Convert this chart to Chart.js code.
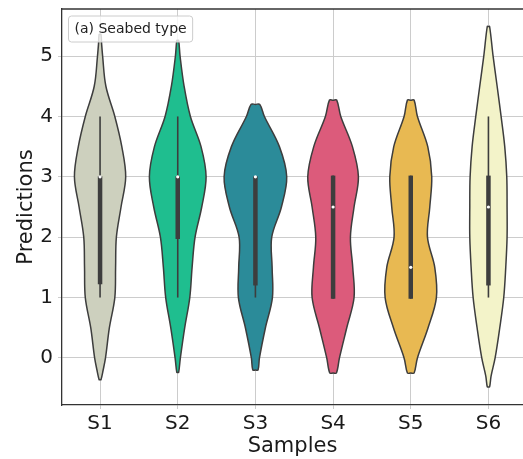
<!DOCTYPE html>
<html>
<head>
<meta charset="utf-8">
<script src="https://cdn.jsdelivr.net/npm/chart.js@4.4.1/dist/chart.umd.min.js"></script>
<style>
  html, body { margin: 0; padding: 0; background: #ffffff; }
  canvas { display: block; }
</style>
</head>
<body>
<canvas id="c" width="523" height="459"></canvas>
<script>
// ---- data ----
const categories = ['S1', 'S2', 'S3', 'S4', 'S5', 'S6'];
const yTicks = [0, 1, 2, 3, 4, 5];
const panelLabel = '(a) Seabed type';
const xTitle = 'Samples';
const yTitle = 'Predictions';

// violin outlines: prediction levels and kernel-density half widths (x-axis units)
const levelsS1 = [-0.36, -0.2, 0, 0.5, 1, 1.5, 2, 2.5, 3, 3.5, 4, 4.5, 5, 5.2, 5.36];
const widthS1  = [0.012, 0.04, 0.07, 0.12, 0.19, 0.20, 0.21, 0.27, 0.33, 0.28, 0.19, 0.075, 0.033, 0.02, 0.012];
const levelsS2 = [-0.24, 0, 0.5, 1, 1.5, 2, 2.5, 3, 3.5, 4, 4.5, 5, 5.26];
const widthS2  = [0.012, 0.034, 0.09, 0.155, 0.185, 0.223, 0.309, 0.365, 0.30, 0.163, 0.082, 0.03, 0.012];
const levelsS3 = [-0.2, 0, 0.5, 1, 1.5, 2, 2.5, 3, 3.5, 4, 4.2];
const widthS3  = [0.034, 0.052, 0.129, 0.219, 0.215, 0.21, 0.335, 0.403, 0.309, 0.116, 0.056];
const levelsS4 = [-0.25, 0, 0.5, 1, 1.5, 2, 2.5, 3, 3.5, 4, 4.27];
const widthS4  = [0.043, 0.082, 0.176, 0.27, 0.253, 0.223, 0.27, 0.326, 0.249, 0.099, 0.047];
const levelsS5 = [-0.25, 0, 0.5, 1, 1.5, 2, 2.5, 3, 3.5, 4, 4.27];
const widthS5  = [0.043, 0.086, 0.223, 0.33, 0.309, 0.215, 0.245, 0.27, 0.219, 0.086, 0.043];
const levelsS6 = [-0.48, -0.3, 0, 0.5, 1, 1.5, 2, 2.5, 3, 3.5, 4, 4.5, 5, 5.49];
const widthS6  = [0.015, 0.034, 0.086, 0.146, 0.197, 0.223, 0.24, 0.24, 0.236, 0.21, 0.163, 0.112, 0.06, 0.015];

// inner box statistics
const quartile1   = [1.22, 1.97, 1.2, 0.98, 0.98, 1.2];
const quartile3   = [3.01, 3.01, 3.01, 3.02, 3.02, 3.02];
const medians     = [3.0, 3.0, 3.0, 2.5, 1.5, 2.5];
const whiskerLow  = [1, 1, 1, 0.98, 0.98, 1];
const whiskerHigh = [4, 4, 3.01, 3.02, 3.02, 4];

const fillColors = ['#cdd0be', '#1fbe8f', '#2b8b99', '#dc5b7b', '#e8b952', '#f3f3c9'];

const allLevels = [levelsS1, levelsS2, levelsS3, levelsS4, levelsS5, levelsS6];
const allWidths = [widthS1, widthS2, widthS3, widthS4, widthS5, widthS6];

// ---- build datasets ----
const ink = '#3d3d3d';
const datasets = [];
categories.forEach((cat, i) => {
  const lv = allLevels[i], hw = allWidths[i];
  const pts = [{x: i, y: lv[0]}];
  for (let k = 0; k < lv.length; k++) pts.push({x: i + hw[k], y: lv[k]});
  pts.push({x: i, y: lv[lv.length - 1]});
  for (let k = lv.length - 1; k >= 0; k--) pts.push({x: i - hw[k], y: lv[k]});
  pts.push({x: i, y: lv[0]});
  datasets.push({
    label: cat + ' violin', data: pts, showLine: true, fill: 'shape',
    backgroundColor: fillColors[i], borderColor: ink, borderWidth: 1.5,
    pointRadius: 0, tension: 0.35, order: 3
  });
  datasets.push({
    label: cat + ' whisker', data: [{x: i, y: whiskerLow[i]}, {x: i, y: whiskerHigh[i]}],
    showLine: true, borderColor: ink, borderWidth: 1.6, pointRadius: 0,
    borderCapStyle: 'butt', order: 2
  });
  datasets.push({
    label: cat + ' box', data: [{x: i, y: quartile1[i]}, {x: i, y: quartile3[i]}],
    showLine: true, borderColor: ink, borderWidth: 4.5, pointRadius: 0,
    borderCapStyle: 'butt', order: 1
  });
});
datasets.push({
  label: 'median', data: medians.map((m, i) => ({x: i, y: m})),
  showLine: false, pointRadius: 1.6, pointBackgroundColor: '#ffffff',
  pointBorderWidth: 0, order: 0
});

const frameAndLabel = {
  id: 'frameAndLabel',
  afterDraw(chart) {
    const {ctx, chartArea} = chart;
    ctx.save();
    // panel label box
    ctx.font = '14px "DejaVu Sans"';
    const tw = ctx.measureText(panelLabel).width;
    const bx = chartArea.left + 6.5, by = 16, bw = tw + 12, bh = 26;
    ctx.beginPath();
    ctx.roundRect(bx, by, bw, bh, 3);
    ctx.fillStyle = 'rgba(255,255,255,0.8)';
    ctx.fill();
    ctx.strokeStyle = '#cccccc';
    ctx.lineWidth = 1;
    ctx.stroke();
    ctx.fillStyle = '#222222';
    ctx.textBaseline = 'middle';
    ctx.textAlign = 'left';
    ctx.fillText(panelLabel, bx + 6, by + bh / 2);
    // top spine
    ctx.beginPath();
    ctx.strokeStyle = '#333333';
    ctx.lineWidth = 1.3;
    ctx.moveTo(chartArea.left, chartArea.top);
    ctx.lineTo(chartArea.right, chartArea.top);
    ctx.stroke();
    ctx.restore();
  }
};

new Chart(document.getElementById('c'), {
  type: 'scatter',
  data: { datasets },
  options: {
    responsive: false,
    animation: false,
    devicePixelRatio: 1,
    layout: { autoPadding: false, padding: { top: 9, left: 0, right: 0, bottom: 0 } },
    plugins: { legend: { display: false }, tooltip: { enabled: false } },
    scales: {
      x: {
        type: 'linear', min: -0.49, max: 5.445,
        afterBuildTicks: (s) => { s.ticks = categories.map((c, i) => ({value: i})); },
        afterFit: (s) => { s.height = 54; s.paddingLeft = 0; s.paddingRight = 0; },
        ticks: {
          autoSkip: false, maxRotation: 0, padding: 3, color: '#1a1a1a',
          font: { family: 'DejaVu Sans', size: 20 },
          callback: (v) => categories[Math.round(v)]
        },
        grid: { color: '#cccccc', lineWidth: 1, tickLength: 4, drawTicks: true },
        border: { display: true, color: '#333333', width: 1.3 },
        title: {
          display: true, text: xTitle, color: '#1a1a1a',
          font: { family: 'DejaVu Sans', size: 21 }, padding: { top: 0, bottom: 0 }
        }
      },
      y: {
        type: 'linear', min: -0.78, max: 5.78,
        afterBuildTicks: (s) => { s.ticks = yTicks.map(v => ({value: v})); },
        afterFit: (s) => { s.width = 62; s.paddingTop = 0; s.paddingBottom = 0; },
        ticks: {
          padding: 5, color: '#1a1a1a',
          font: { family: 'DejaVu Sans', size: 20 },
          callback: (v) => String(v)
        },
        grid: { color: '#cccccc', lineWidth: 1, tickLength: 4, drawTicks: true },
        border: { display: true, color: '#333333', width: 1.3 },
        title: {
          display: true, text: yTitle, color: '#1a1a1a',
          font: { family: 'DejaVu Sans', size: 21 }, padding: { top: 14, bottom: 0 }
        }
      }
    }
  },
  plugins: [frameAndLabel]
});
</script>
</body>
</html>
